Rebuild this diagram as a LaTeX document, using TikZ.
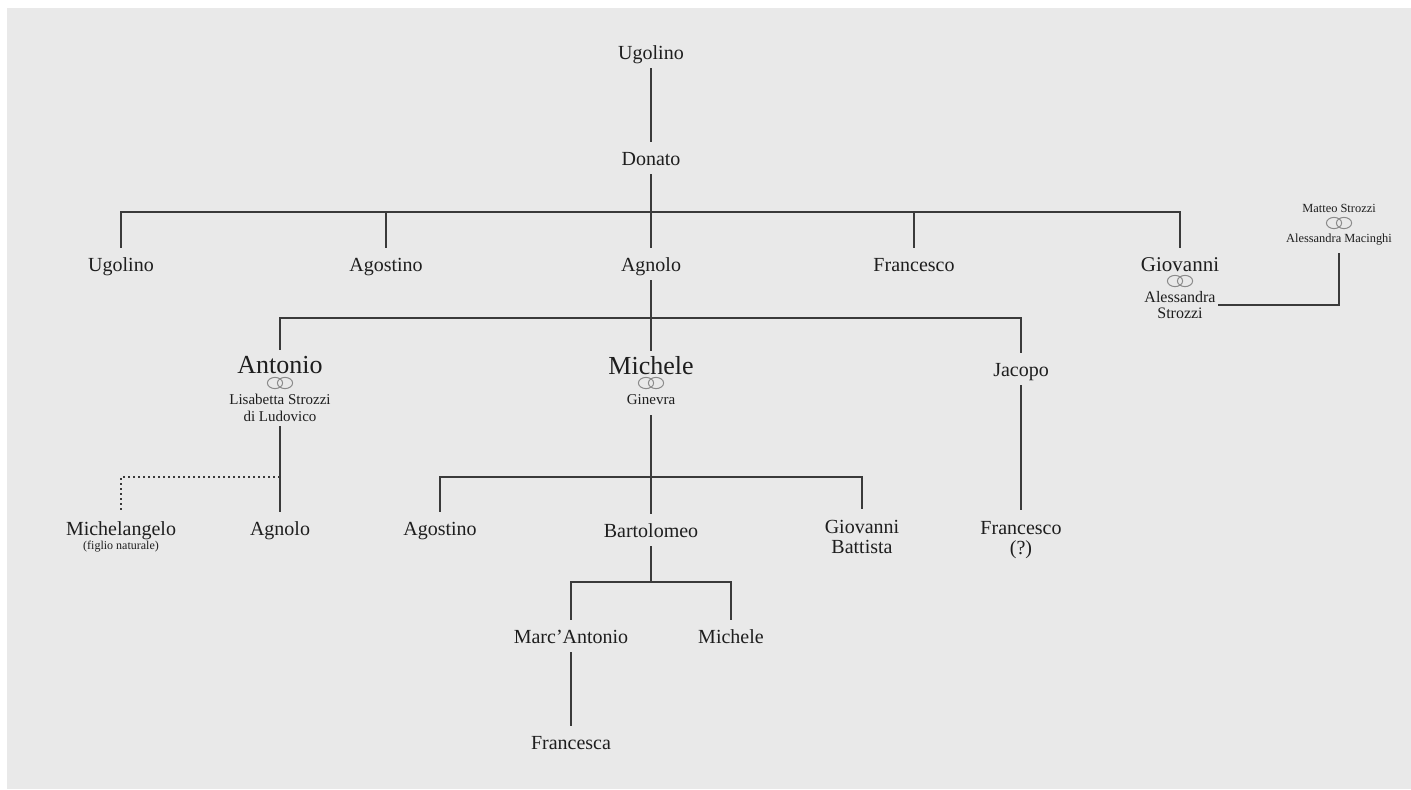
\documentclass[tikz,border=0pt]{standalone}
\usepackage{fontspec}
\setmainfont{Liberation Serif}
\definecolor{bgc}{HTML}{E9E9E9}
\definecolor{ink}{HTML}{1E1E1E}
\definecolor{linec}{HTML}{3A3A3A}
\definecolor{ringc}{HTML}{8A8A8A}
\begin{document}
\begin{tikzpicture}[x=0.5pt,y=-0.5pt,
  nm/.style={font=\fontsize{10}{12}\selectfont, text=ink, inner xsep=1pt, inner ysep=0pt,
             text height=8pt, text depth=1pt, minimum height=16pt},
  big/.style={nm, font=\fontsize{13}{15}\selectfont, text height=10pt, text depth=1.5pt, minimum height=15pt},
  gio/.style={nm, font=\fontsize{10.5}{12}\selectfont},
  multi/.style={font=\fontsize{10}{10}\selectfont, align=center, text=ink, inner xsep=1pt, inner ysep=5.5pt, anchor=north},
  spouse/.style={font=\fontsize{7.5}{8.5}\selectfont, align=center, text=ink, inner xsep=1pt, inner ysep=2pt, anchor=north},
  spouseA/.style={font=\fontsize{8}{8}\selectfont, align=center, text=ink, inner xsep=1pt, inner ysep=1pt, anchor=north},
  wife/.style={nm, font=\fontsize{7.5}{9}\selectfont, text height=6pt, text depth=1pt},
  tiny/.style={nm, font=\fontsize{6.2}{7}\selectfont, text height=5pt, text depth=0.8pt, minimum height=15pt},
  note/.style={font=\fontsize{6}{7}\selectfont, text=ink, inner sep=0pt},
  ringnode/.style={minimum width=16pt, minimum height=8pt, inner sep=0pt,
    path picture={
      \draw[ringc, line width=0.5pt] ([xshift=-2.5pt]path picture bounding box.center) ellipse [x radius=3.8pt, y radius=2.8pt];
      \draw[ringc, line width=0.5pt] ([xshift=2.5pt]path picture bounding box.center) ellipse [x radius=3.8pt, y radius=2.8pt];
    }},
  link/.style={draw=linec, line width=0.75pt},
  natural/.style={link, dash pattern=on 0.8pt off 1.7pt}
]
\useasboundingbox (0,0) rectangle (1411,789);
\fill[bgc] (7,8) rectangle (1411,789);

% generation 1-2
\node[nm] (ugolino0) at (651,52) {Ugolino};
\node[nm] (donato) at (651,158) {Donato};

% generation 3
\node[nm] (ugolino1) at (121,264) {Ugolino};
\node[nm] (agostino1) at (386,264) {Agostino};
\node[nm] (agnolo1) at (651,264) {Agnolo};
\node[nm] (francesco1) at (914,264) {Francesco};
\node[gio] (giovanni1) at (1180,264) {Giovanni};
\node[ringnode] (ringG) at (1180,281) {};
\node[spouseA] (alessandraS) at (1180,289) {Alessandra\\Strozzi};

\node[tiny] (matteo) at (1339,208) {Matteo Strozzi};
\node[ringnode] (ringM) at (1339,223) {};
\node[tiny] (macinghi) at (1339,238) {Alessandra Macinghi};

% generation 4
\node[big] (antonio) at (280,365) {Antonio};
\node[ringnode] (ringA) at (280,383) {};
\node[spouse] (lisabetta) at (280,390) {Lisabetta Strozzi\\di Ludovico};

\node[big] (michele1) at (651,366) {Michele};
\node[ringnode] (ringMi) at (651,383) {};
\node[wife] (ginevra) at (651,399) {Ginevra};

\node[nm] (jacopo) at (1021,369) {Jacopo};

% generation 5
\node[nm] (michelangelo) at (121,528) {Michelangelo};
\node[note] (mnote) at (121,547) {(figlio naturale)};
\node[nm] (agnolo2) at (280,528) {Agnolo};
\node[nm] (agostino2) at (440,528) {Agostino};
\node[nm] (bartolomeo) at (651,530) {Bartolomeo};
\node[multi] (giovbatt) at (862,509) {Giovanni\\Battista};
\node[multi] (francesco2) at (1021,510) {Francesco\\(?)};

% generation 6-7
\node[nm] (marcantonio) at (571,636) {Marc’Antonio};
\node[nm] (michele2) at (731,636) {Michele};
\node[nm] (francesca) at (571,742) {Francesca};

% junctions
\coordinate (bus1) at (651,212);
\coordinate (bus2) at (651,318);
\coordinate (bus3) at (651,477);
\coordinate (bus4) at (651,582);
\coordinate (natj) at (280,477);

% connectors
\draw[link] (ugolino0.south) -- (donato.north);
\draw[link] (donato.south) -- (agnolo1.north);
\draw[link] (ugolino1.north) |- (bus1) -| (giovanni1.north);
\draw[link] (agostino1.north) -- (agostino1.north |- bus1);
\draw[link] (francesco1.north) -- (francesco1.north |- bus1);
\draw[link] (macinghi.south) |- (alessandraS.east);

\draw[link] (agnolo1.south) -- (michele1.north);
\draw[link] (antonio.north) |- (bus2) -| (jacopo.north);

\draw[link] (lisabetta.south) -- (agnolo2.north);
\draw[natural] (natj) -| (michelangelo.north);

\draw[link] (ginevra.south) -- (bartolomeo.north);
\draw[link] (agostino2.north) |- (bus3) -| (giovbatt.north);

\draw[link] (jacopo.south) -- (francesco2.north);

\draw[link] (bartolomeo.south) -- (bus4);
\draw[link] (marcantonio.north) |- (bus4) -| (michele2.north);
\draw[link] (marcantonio.south) -- (francesca.north);
\end{tikzpicture}
\end{document}
